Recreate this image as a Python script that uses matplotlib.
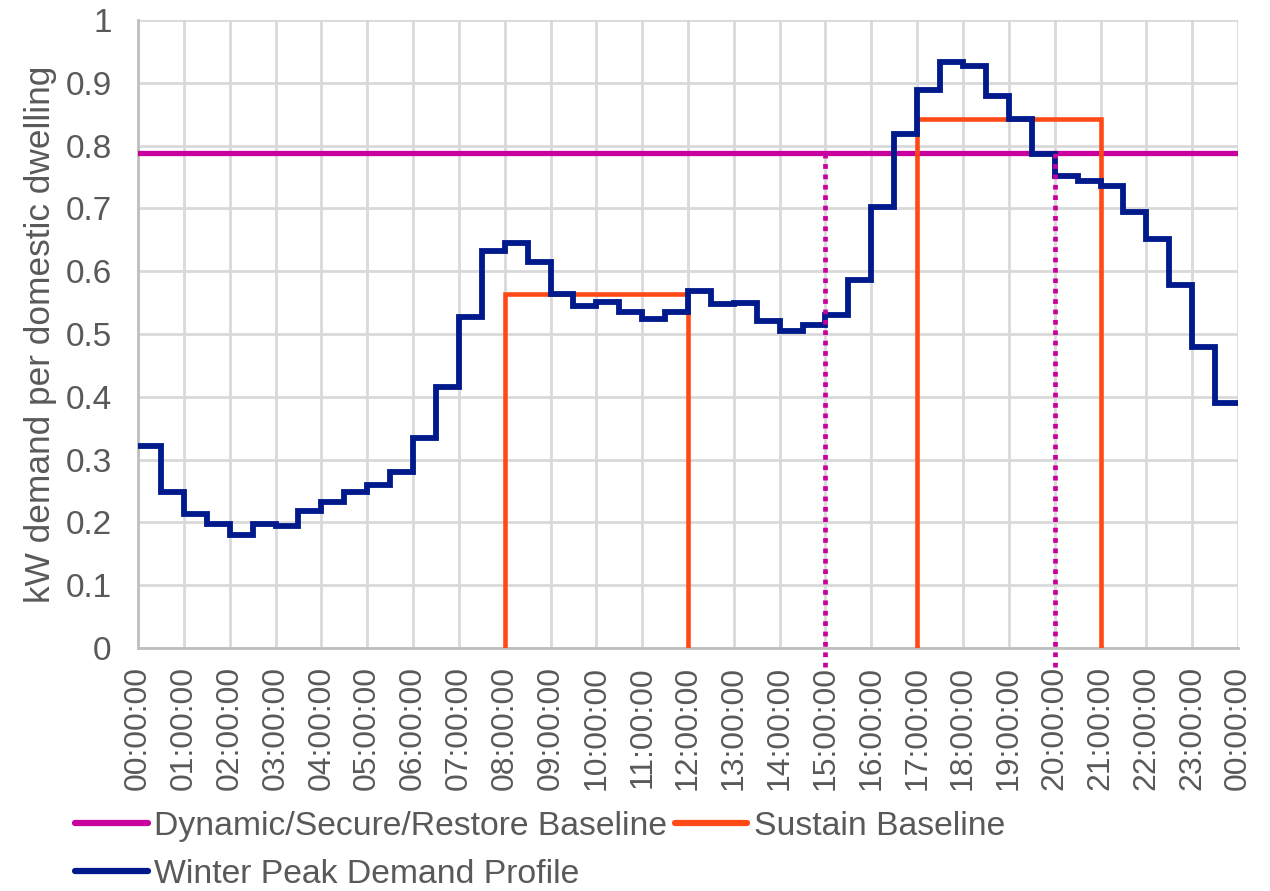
import matplotlib
matplotlib.use("Agg")
import matplotlib.pyplot as plt
import numpy as np

# Half-hourly winter peak demand profile (kW per dwelling), 00:00 .. 23:30
demand = [0.322, 0.248, 0.213, 0.197, 0.180, 0.197, 0.195, 0.218,
          0.233, 0.248, 0.260, 0.280, 0.335, 0.415, 0.527, 0.632,
          0.645, 0.615, 0.563, 0.545, 0.551, 0.535, 0.524, 0.535,
          0.568, 0.547, 0.549, 0.520, 0.505, 0.515, 0.531, 0.586,
          0.702, 0.818, 0.889, 0.933, 0.926, 0.879, 0.842, 0.787,
          0.752, 0.744, 0.735, 0.695, 0.651, 0.578, 0.480, 0.390]
hours = [h / 2 for h in range(49)]  # 0 .. 24 in half-hour steps

dynamic_baseline = 0.789
dynamic_window = [15, 20]  # hours (dotted markers)
sustain_windows = [(8, 12, 0.564), (17, 21, 0.843)]  # start, end, level

tick_hours = list(range(25))
tick_labels = [f"{h % 24:02d}:00:00" for h in tick_hours]
y_ticks = [0, 0.1, 0.2, 0.3, 0.4, 0.5, 0.6, 0.7, 0.8, 0.9, 1]
y_ticklabels = ["0", "0.1", "0.2", "0.3", "0.4", "0.5", "0.6", "0.7", "0.8", "0.9", "1"]

BLUE = "#001A8C"
MAGENTA = "#C8009E"
ORANGE = "#FF4A17"
GRID = "#D9D9D9"
TEXT = "#595959"

plt.rcParams['font.family'] = ['Liberation Sans', 'DejaVu Sans']

fig = plt.figure(figsize=(12.7, 8.91), dpi=100)
ax = fig.add_axes([138 / 1270, 1 - 648 / 891, 1100 / 1270, 628 / 891])

# Blue step profile
vals = demand + [demand[-1]]
ln_blue, = ax.step(hours, vals, where="post", color=BLUE, lw=4.2,
                   solid_joinstyle="miter", zorder=5, label="Winter Peak Demand Profile")

# Magenta baseline
ln_mag = ax.axhline(dynamic_baseline, color=MAGENTA, lw=3.8, zorder=4,
                    label="Dynamic/Secure/Restore Baseline")
for xh in dynamic_window:
    ax.plot([xh, xh], [-0.03, dynamic_baseline], color=MAGENTA, lw=3.4,
            linestyle=(0, (1, 1.2)), zorder=6, clip_on=False)

# Orange sustain baselines
ln_or = None
for (s, e, lvl) in sustain_windows:
    ln_or, = ax.plot([s, s, e, e], [0, lvl, lvl, 0], color=ORANGE, lw=3.3,
                     solid_joinstyle="miter", zorder=4, label="Sustain Baseline")

ax.set_xlim(0, 24)
ax.set_ylim(0, 1)
ax.set_xticks(tick_hours)
ax.set_xticklabels(tick_labels, rotation=90, fontsize=23, color=TEXT)
ax.set_yticks(y_ticks)
ax.set_yticklabels(y_ticklabels, fontsize=24, color=TEXT)
ax.tick_params(axis="both", length=0)
ax.tick_params(axis="y", pad=19)
ax.tick_params(axis="x", pad=13)
ax.grid(True, color=GRID, lw=2)
ax.set_axisbelow(True)
for side in ["top", "right"]:
    ax.spines[side].set_visible(False)
for side in ["left", "bottom"]:
    ax.spines[side].set_color("#BFBFBF")
    ax.spines[side].set_linewidth(2)

ax.set_ylabel("kW demand per domestic dwelling", fontsize=25.4, color=TEXT)
ax.yaxis.set_label_coords(-0.0736, 0.5)

leg = fig.legend([ln_mag, ln_blue, ln_or],
                 ["Dynamic/Secure/Restore Baseline", "Winter Peak Demand Profile", "Sustain Baseline"],
                 ncol=2, loc="upper left", bbox_to_anchor=(75 / 1270, 1 - 811 / 891),
                 frameon=False, fontsize=24.3, handlelength=2.15, handletextpad=0.2,
                 columnspacing=0.22, labelspacing=0.5, borderpad=0, borderaxespad=0,
                 labelcolor=TEXT)
for h in leg.legend_handles:
    h.set_linewidth(4.5)
    h.set_solid_capstyle("round")

fig.savefig("out.png", dpi=100)
